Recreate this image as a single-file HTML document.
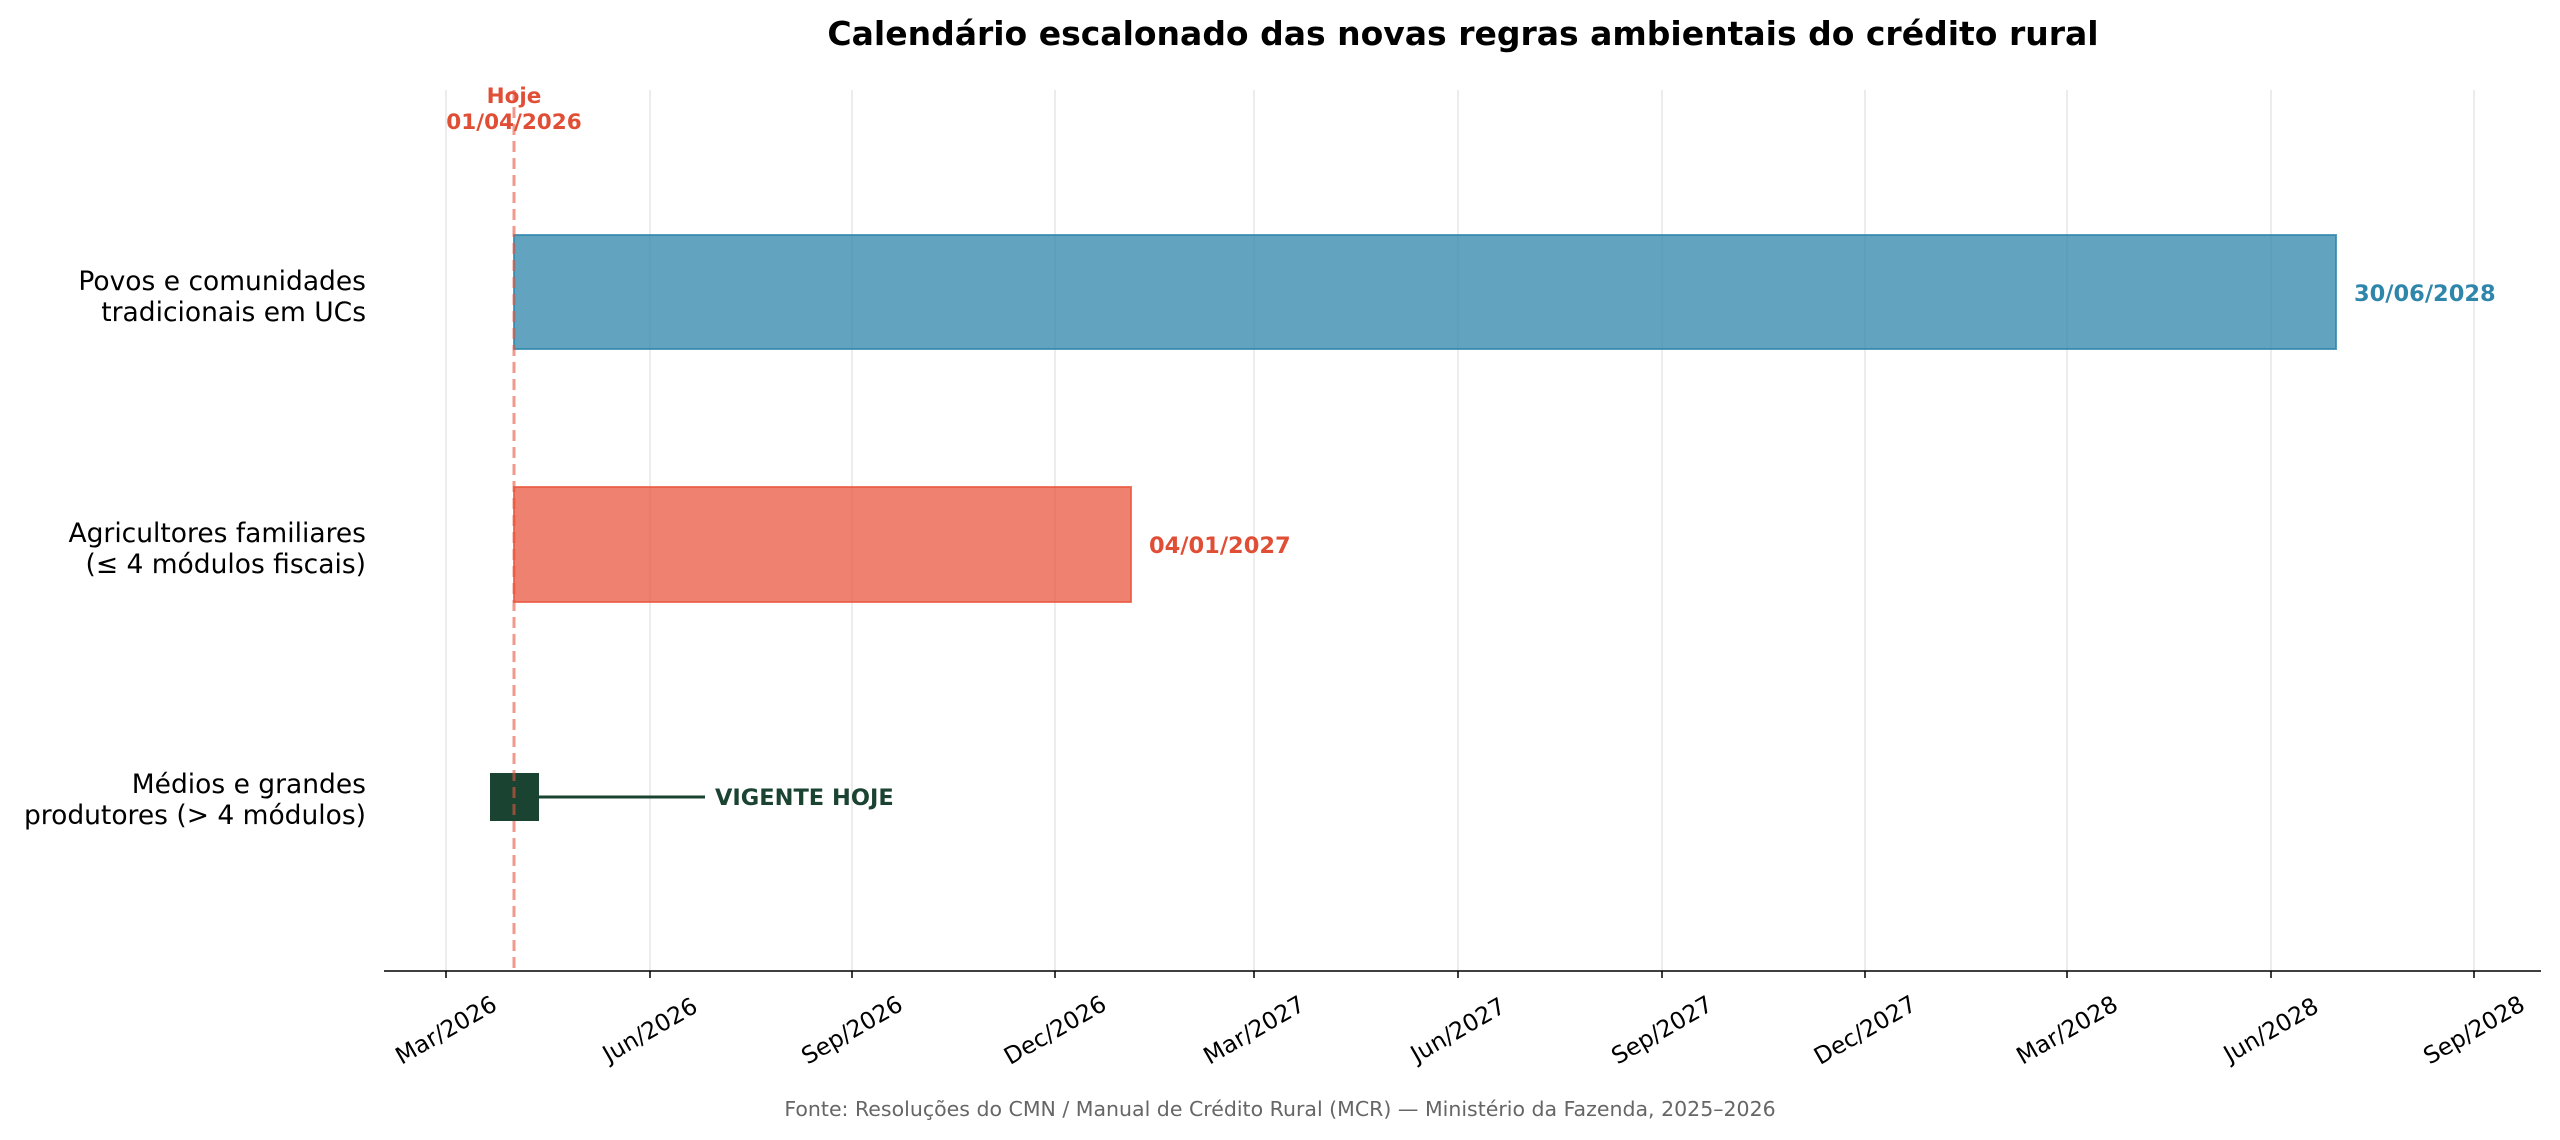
<!DOCTYPE html>
<html><head><meta charset="utf-8"><style>
html,body{margin:0;padding:0;background:#fff;}
svg{display:block;font-family:"DejaVu Sans","Liberation Sans",sans-serif;}
</style></head><body>
<svg width="2560" height="1140" viewBox="0 0 2560 1140" xmlns="http://www.w3.org/2000/svg">
<rect width="2560" height="1140" fill="#fff"/>
<text x="1463" y="45" text-anchor="middle" font-size="33" font-weight="bold" fill="#000">Calendário escalonado das novas regras ambientais do crédito rural</text>
<g stroke="#e6e6e6" stroke-width="1.5">
<line x1="446" y1="90" x2="446" y2="971"/><line x1="650" y1="90" x2="650" y2="971"/>
<line x1="852" y1="90" x2="852" y2="971"/><line x1="1055" y1="90" x2="1055" y2="971"/>
<line x1="1254" y1="90" x2="1254" y2="971"/><line x1="1458" y1="90" x2="1458" y2="971"/>
<line x1="1662" y1="90" x2="1662" y2="971"/><line x1="1865" y1="90" x2="1865" y2="971"/>
<line x1="2067" y1="90" x2="2067" y2="971"/><line x1="2271" y1="90" x2="2271" y2="971"/>
<line x1="2474" y1="90" x2="2474" y2="971"/>
</g>
<rect x="514" y="235" width="1822" height="114" fill="#2E86AB" fill-opacity="0.75" stroke="#2E86AB" stroke-opacity="0.8" stroke-width="2"/>
<text x="2354" y="301" font-size="22.5" font-weight="bold" fill="#2E86AB">30/06/2028</text>
<rect x="514" y="487" width="617" height="115" fill="#E8573F" fill-opacity="0.75" stroke="#E8573F" stroke-opacity="0.8" stroke-width="2"/>
<text x="1149" y="553" font-size="22.5" font-weight="bold" fill="#E04E35">04/01/2027</text>
<line x1="514" y1="797" x2="705" y2="797" stroke="#1B4332" stroke-width="3"/>
<rect x="490" y="773" width="49" height="48" fill="#1B4332"/>
<text x="715" y="805" font-size="22.5" font-weight="bold" fill="#1B4332">VIGENTE HOJE</text>
<line x1="514" y1="90" x2="514" y2="971" stroke="#E8573F" stroke-opacity="0.6" stroke-width="3" stroke-dasharray="11,6"/>
<text x="514" y="103" text-anchor="middle" font-size="21.5" font-weight="bold" fill="#E04E35">Hoje</text>
<text x="514" y="129" text-anchor="middle" font-size="21.5" font-weight="bold" fill="#E04E35">01/04/2026</text>
<g font-size="26.5" fill="#000" text-anchor="end">
<text x="366" y="290">Povos e comunidades</text><text x="366" y="321">tradicionais em UCs</text>
<text x="366" y="542">Agricultores familiares</text><text x="366" y="573">(≤ 4 módulos fiscais)</text>
<text x="366" y="793">Médios e grandes</text><text x="366" y="824">produtores (&gt; 4 módulos)</text>
</g>
<line x1="384" y1="971" x2="2541" y2="971" stroke="#000" stroke-width="1.6"/>
<g stroke="#000" stroke-width="1.5">
<line x1="446" y1="971" x2="446" y2="978"/><line x1="650" y1="971" x2="650" y2="978"/>
<line x1="852" y1="971" x2="852" y2="978"/><line x1="1055" y1="971" x2="1055" y2="978"/>
<line x1="1254" y1="971" x2="1254" y2="978"/><line x1="1458" y1="971" x2="1458" y2="978"/>
<line x1="1662" y1="971" x2="1662" y2="978"/><line x1="1865" y1="971" x2="1865" y2="978"/>
<line x1="2067" y1="971" x2="2067" y2="978"/><line x1="2271" y1="971" x2="2271" y2="978"/>
<line x1="2474" y1="971" x2="2474" y2="978"/>
</g>
<g font-size="23.5" fill="#000" text-anchor="middle" dominant-baseline="central">
<text transform="translate(446,1030) rotate(-30)">Mar/2026</text>
<text transform="translate(650,1030) rotate(-30)">Jun/2026</text>
<text transform="translate(852,1030) rotate(-30)">Sep/2026</text>
<text transform="translate(1055,1030) rotate(-30)">Dec/2026</text>
<text transform="translate(1254,1030) rotate(-30)">Mar/2027</text>
<text transform="translate(1458,1030) rotate(-30)">Jun/2027</text>
<text transform="translate(1662,1030) rotate(-30)">Sep/2027</text>
<text transform="translate(1865,1030) rotate(-30)">Dec/2027</text>
<text transform="translate(2067,1030) rotate(-30)">Mar/2028</text>
<text transform="translate(2271,1030) rotate(-30)">Jun/2028</text>
<text transform="translate(2474,1030) rotate(-30)">Sep/2028</text>
</g>
<text x="1280" y="1116" text-anchor="middle" font-size="20.5" fill="#666">Fonte: Resoluções do CMN / Manual de Crédito Rural (MCR) — Ministério da Fazenda, 2025–2026</text>
</svg>
</body></html>
